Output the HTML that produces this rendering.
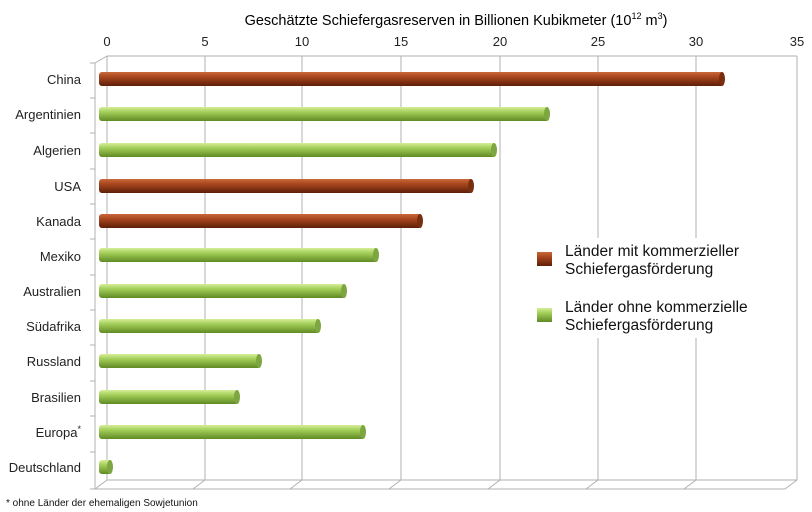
<!DOCTYPE html>
<html><head><meta charset="utf-8"><style>
html,body{margin:0;padding:0;background:#fff;width:812px;height:512px;overflow:hidden}
svg{display:block;font-family:"Liberation Sans",sans-serif}
</style></head><body>
<svg width="812" height="512" viewBox="0 0 812 512">
<defs>
<linearGradient id="br" x1="0" y1="0" x2="0" y2="1">
<stop offset="0" stop-color="#c9683a"/><stop offset="0.35" stop-color="#a8471e"/><stop offset="1" stop-color="#5e1f08"/></linearGradient>
<linearGradient id="gr" x1="0" y1="0" x2="0" y2="1">
<stop offset="0" stop-color="#d6ee9a"/><stop offset="0.35" stop-color="#a4cf5a"/><stop offset="1" stop-color="#5f8a24"/></linearGradient>
</defs>
<text x="456" y="25" font-size="14.5" text-anchor="middle" fill="#000">Geschätzte Schiefergasreserven in Billionen Kubikmeter  (10<tspan font-size="9" dy="-6">12</tspan><tspan dy="6"> m</tspan><tspan font-size="9" dy="-6">3</tspan><tspan dy="6">)</tspan></text>
<g font-size="13" fill="#222" text-anchor="middle">
<text x="107" y="46">0</text><text x="205" y="46">5</text><text x="302" y="46">10</text><text x="401" y="46">15</text><text x="500" y="46">20</text><text x="598" y="46">25</text><text x="696" y="46">30</text><text x="797" y="46">35</text>
</g>
<g stroke="#b0b0b0" stroke-width="1" fill="none">
<line x1="107" y1="56" x2="797" y2="56"/>
<line x1="107" y1="56" x2="107" y2="480"/><line x1="205" y1="56" x2="205" y2="480"/><line x1="302" y1="56" x2="302" y2="480"/><line x1="401" y1="56" x2="401" y2="480"/><line x1="500" y1="56" x2="500" y2="480"/><line x1="598" y1="56" x2="598" y2="480"/><line x1="696" y1="56" x2="696" y2="480"/><line x1="797" y1="56" x2="797" y2="480"/>
<line x1="107" y1="480" x2="797" y2="480"/>
<line x1="95" y1="489" x2="785" y2="489"/>
<line x1="95" y1="63" x2="95" y2="489"/>
<line x1="95" y1="63" x2="107" y2="56"/>
<path d="M95 489L107 480M193 489L205 480M290 489L302 480M389 489L401 480M488 489L500 480M586 489L598 480M684 489L696 480M785 489L797 480"/>
<path d="M90 63H95M90 98H95M90 133H95M90 169H95M90 204H95M90 239H95M90 275H95M90 310H95M90 345H95M90 381H95M90 416H95M90 452H95M90 489H95"/>
</g>
<rect x="528" y="238" width="245" height="100" fill="#fff"/>
<g font-size="13" fill="#222" text-anchor="end">
<text x="81" y="84">China</text><text x="81" y="119">Argentinien</text><text x="81" y="155">Algerien</text><text x="81" y="191">USA</text><text x="81" y="226">Kanada</text><text x="81" y="261">Mexiko</text><text x="81" y="296">Australien</text><text x="81" y="331">Südafrika</text><text x="81" y="366">Russland</text><text x="81" y="402">Brasilien</text><text x="81" y="437">Europa<tspan font-size="9" dy="-5">*</tspan></text><text x="81" y="472">Deutschland</text>
</g>
<g>
<rect x="99" y="72" width="625" height="14" rx="3" fill="url(#br)"/><ellipse cx="722" cy="79" rx="3" ry="7" fill="#7a2e10"/>
<rect x="99" y="107" width="450" height="14" rx="3" fill="url(#gr)"/><ellipse cx="547" cy="114" rx="3" ry="7" fill="#7ea640"/>
<rect x="99" y="143" width="397" height="14" rx="3" fill="url(#gr)"/><ellipse cx="494" cy="150" rx="3" ry="7" fill="#7ea640"/>
<rect x="99" y="179" width="374" height="14" rx="3" fill="url(#br)"/><ellipse cx="471" cy="186" rx="3" ry="7" fill="#7a2e10"/>
<rect x="99" y="214" width="323" height="14" rx="3" fill="url(#br)"/><ellipse cx="420" cy="221" rx="3" ry="7" fill="#7a2e10"/>
<rect x="99" y="248" width="279" height="14" rx="3" fill="url(#gr)"/><ellipse cx="376" cy="255" rx="3" ry="7" fill="#7ea640"/>
<rect x="99" y="284" width="247" height="14" rx="3" fill="url(#gr)"/><ellipse cx="344" cy="291" rx="3" ry="7" fill="#7ea640"/>
<rect x="99" y="319" width="221" height="14" rx="3" fill="url(#gr)"/><ellipse cx="318" cy="326" rx="3" ry="7" fill="#7ea640"/>
<rect x="99" y="354" width="162" height="14" rx="3" fill="url(#gr)"/><ellipse cx="259" cy="361" rx="3" ry="7" fill="#7ea640"/>
<rect x="99" y="390" width="140" height="14" rx="3" fill="url(#gr)"/><ellipse cx="237" cy="397" rx="3" ry="7" fill="#7ea640"/>
<rect x="99" y="425" width="266" height="14" rx="3" fill="url(#gr)"/><ellipse cx="363" cy="432" rx="3" ry="7" fill="#7ea640"/>
<rect x="99" y="460" width="13" height="14" rx="3" fill="url(#gr)"/><ellipse cx="110" cy="467" rx="3" ry="7" fill="#7ea640"/>
</g>
<rect x="537" y="252" width="15" height="14" fill="url(#br)"/>
<rect x="537" y="308" width="15" height="14" fill="url(#gr)"/>
<g font-size="15.5" fill="#111">
<text x="565" y="256">Länder mit kommerzieller</text><text x="565" y="274">Schiefergasförderung</text>
<text x="565" y="312">Länder ohne kommerzielle</text><text x="565" y="330">Schiefergasförderung</text>
</g>
<text x="6" y="506" font-size="10" fill="#111">* ohne Länder der ehemaligen Sowjetunion</text>
</svg>
</body></html>
